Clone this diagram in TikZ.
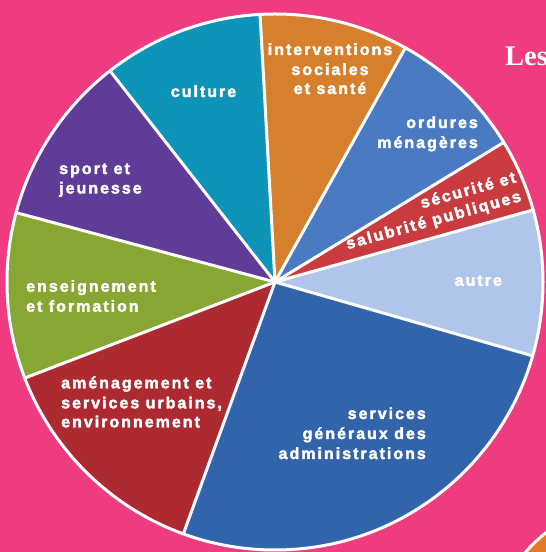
\documentclass[tikz,border=0pt]{standalone}
\usepackage{fontspec}
\newfontfamily\labfont[LetterSpace=12.5,FakeBold=2.5]{Liberation Sans}
\newfontfamily\titlefont{Liberation Serif}
\definecolor{pinkbg}{HTML}{EF3B7F}
\definecolor{cInter}{HTML}{D6802E}
\definecolor{cCult}{HTML}{0E93B9}
\definecolor{cSport}{HTML}{5F3C97}
\definecolor{cEns}{HTML}{87A633}
\definecolor{cAmen}{HTML}{AD2A31}
\definecolor{cServ}{HTML}{3264AC}
\definecolor{cAutre}{HTML}{B0C5EA}
\definecolor{cSecu}{HTML}{C93B3E}
\definecolor{cOrd}{HTML}{4A7AC2}
\definecolor{cOrange}{HTML}{E07A28}
\begin{document}
\begin{tikzpicture}[x=1pt,y=1pt,
  lab/.style={text=white,font=\labfont\bfseries\fontsize{16}{19.5}\selectfont,inner sep=0pt},
  sep/.style={draw=white,line width=3pt,line cap=round,line join=round}]
\fill[pinkbg] (0,0) rectangle (546,552);
\useasboundingbox (0,0) rectangle (546,552);
\begin{scope}
\clip (0,0) rectangle (546,552);
% other chart, bottom right
\coordinate (c2) at (650,-110);
\filldraw[fill=cOrange,sep] (c2) circle[radius=166pt];
% pie
\coordinate (c) at (275,270);
\foreach \a/\b/\col in {60.9/93.2/cInter, 93.2/128/cCult, 128/165/cSport,
  165/201/cEns, 201/250/cAmen, 250/344/cServ, 344/375.6/cAutre,
  375.6/391.4/cSecu, 391.4/420.9/cOrd}{
  \fill[\col] (c) -- ++(\a:268pt) arc[start angle=\a, end angle=\b, radius=268pt] -- cycle;
}
\foreach \a in {60.9,93.2,128,165,201,250,344,15.6,31.4}{
  \draw[sep] (c) -- ++(\a:268pt);
}
\draw[sep] (c) circle[radius=268pt];
% title fragment
\node[text=white,font=\titlefont\bfseries\fontsize{28.5}{30}\selectfont,inner sep=0pt,anchor=base west] (tLes) at (505,486) {Les};
\end{scope}
% labels
\node[lab,anchor=base] (l1a) at (330,497) {interventions};
\node[lab,anchor=base] (l1b) at (330,477) {sociales};
\node[lab,anchor=base] (l1c) at (330,458) {et santé};
\node[lab,anchor=base] (l2) at (203.5,455) {culture};
\node[lab,anchor=base west] (l3a) at (59,378) {sport et};
\node[lab,anchor=base west] (l3b) at (59,358.5) {jeunesse};
\node[lab,anchor=base west] (l4a) at (26,260.3) {enseignement};
\node[lab,anchor=base west] (l4b) at (26,240.3) {et formation};
\node[lab,anchor=base west] (l5a) at (61,163.7) {aménagement et};
\node[lab,anchor=base west] (l5b) at (61,143.7) {services urbains,};
\node[lab,anchor=base west] (l5c) at (61,124.7) {environnement};
\node[lab,anchor=base east] (l6a) at (426,133) {services};
\node[lab,anchor=base east] (l6b) at (426,113) {généraux des};
\node[lab,anchor=base east] (l6c) at (426,93) {administrations};
\node[lab,anchor=base] (l7) at (478.3,266.3) {autre};
\node[lab,align=right,anchor=south east,rotate=15.5] (l8) at (523,347.7) {sécurité et\\salubrité publiques};
\node[lab,anchor=base east] (l9a) at (478,424) {ordures};
\node[lab,anchor=base east] (l9b) at (478,404) {ménagères};
\end{tikzpicture}
\end{document}
